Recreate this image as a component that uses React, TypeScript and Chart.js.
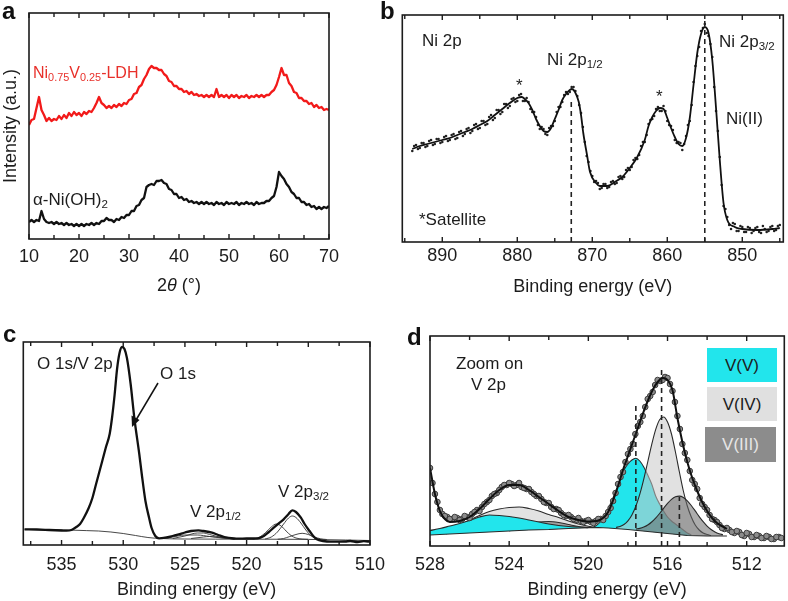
import React, { useEffect, useRef } from 'react';
import { Chart, registerables } from 'chart.js';

Chart.register(...registerables);

const FONT = '"Liberation Sans", Arial, Helvetica, sans-serif';
const INK = '#1c1c1c';

// ---------------- Panel a : XRD (2θ from 10 to 70, step 0.5) ----------------
const aTheta0 = 10;
const aThetaStep = 0.5;
const aLDH = [
  114, 119, 120, 131, 142, 129, 124, 118, 121, 118, 120, 119, 123, 120, 124, 121, 126, 123, 127, 124,
  126, 123, 127, 125, 128, 127, 131, 136, 142, 136, 134, 131, 133, 131, 134, 132, 135, 133, 136, 135,
  139, 140, 145, 146, 152, 154, 160, 164, 170, 173, 171, 171, 169, 169, 165, 163, 158, 157, 153, 153,
  150, 150, 147, 148, 145, 147, 144, 145, 143, 144, 142, 144, 142, 144, 142, 150, 142, 144, 142, 144,
  141, 144, 142, 144, 141, 143, 142, 144, 141, 143, 142, 144, 142, 144, 142, 144, 144, 147, 149, 154,
  162, 171, 164, 164, 156, 153, 147, 146, 141, 141, 138, 138, 135, 136, 132, 134, 131, 132, 129, 130,
  129,
];
const aNiOH = [
  17, 19, 17, 19, 18, 28, 20, 17, 16, 17, 15, 17, 15, 16, 14, 16, 14, 15, 13, 15,
  13, 15, 13, 15, 14, 16, 14, 16, 15, 18, 18, 21, 19, 19, 17, 20, 19, 22, 21, 24,
  24, 28, 28, 33, 34, 39, 41, 52, 54, 55, 54, 58, 58, 59, 56, 55, 50, 49, 45, 45,
  41, 42, 39, 40, 37, 38, 36, 37, 35, 37, 35, 37, 35, 36, 34, 37, 35, 36, 34, 37,
  35, 36, 35, 37, 34, 36, 35, 37, 35, 36, 34, 37, 35, 36, 36, 38, 38, 41, 43, 52,
  67, 63, 60, 55, 52, 47, 45, 41, 41, 37, 37, 34, 35, 32, 33, 30, 32, 30, 32, 31,
  33,
];

// ---------------- Panel b : Ni 2p XPS ----------------
const bFitE = [894, 893, 892, 891, 890, 889, 888, 887, 886, 885, 884, 883, 882, 881, 880, 879.4, 879, 878.5, 878, 877.5, 877, 876.5, 876, 875.5, 875, 874.5, 874, 873.5, 873, 872.7, 872.3, 871.8, 871.5, 871.2, 870.7, 870.3, 869.5, 869, 868, 867, 866, 865, 864, 863, 862.5, 862, 861.5, 861, 860.5, 860, 859.5, 859, 858.5, 858, 857.5, 857, 856.5, 856, 855.5, 855, 854.5, 854, 853.5, 853, 852.5, 852, 851, 850, 848, 846, 845];
const bFitI = [93, 96, 98, 100, 102, 104, 107, 110, 113, 117, 121, 127, 133, 139, 144, 145, 143, 139, 132, 123, 116, 111, 110, 114, 123, 132, 142, 148, 152, 153, 150, 140, 127, 109, 87, 70, 59, 56, 56, 60, 65, 74, 85, 102, 116, 125, 131, 134, 133, 124, 114, 105, 98, 96, 104, 124, 157, 189, 208, 215, 209, 182, 134, 82, 39, 22, 15, 13, 12, 13, 14];
// measured points, every 0.5 eV from 894 eV
const bDotE0 = 894;
const bDotStep = 0.5;
const bDotI = [
  91, 97, 94, 99, 96, 102, 98, 103, 100, 106, 102, 108, 104, 111, 108, 114, 111, 118, 114, 121,
  118, 127, 124, 132, 130, 138, 136, 144, 141, 148, 141, 140, 130, 125, 113, 113, 107, 116, 121, 135,
  140, 150, 150, 155, 146, 129, 100, 80, 66, 61, 53, 58, 54, 60, 58, 65, 63, 72, 72, 82,
  83, 96, 100, 118, 123, 133, 131, 136, 121, 116, 102, 100, 92, 106, 121, 160, 186, 211, 218, 206,
  185, 131, 85, 36, 25, 13, 18, 11, 15, 10, 14, 11, 15, 9, 13, 11, 16, 12, 17,
];
// measured points in between, every 0.5 eV from 893.75 eV
const bDot2E0 = 893.75;
const bDot2I = [
  96, 93, 99, 95, 101, 97, 103, 99, 105, 101, 107, 103, 110, 106, 113, 109, 117, 113, 121, 117,
  125, 122, 132, 128, 138, 134, 143, 140, 147, 141, 144, 133, 130, 117, 115, 108, 114, 116, 130, 135,
  147, 148, 155, 151, 137, 115, 86, 71, 60, 59, 54, 58, 55, 61, 59, 66, 65, 74, 75, 84,
  87, 100, 107, 122, 126, 135, 131, 131, 117, 112, 99, 99, 98, 117, 137, 176, 195, 214, 209, 198,
  155, 111, 57, 33, 17, 19, 11, 16, 10, 15, 9, 14, 10, 16, 10, 15, 11, 16,
];
const bDashE = [872.8, 855.0];
const bDashTop = [142, 222];

// ---------------- Panel c : O 1s / V 2p ----------------
const cMainE = [538, 537, 536, 535, 534.6, 534.2, 533.8, 533.5, 533.2, 532.8, 532.5, 532.2, 531.7, 531.4, 531.1, 530.9, 530.7, 530.5, 530.3, 530.1, 529.9, 529.7, 529.4, 529.1, 528.7, 528.5, 528.2, 527.9, 527.7, 527.4, 527.1, 526.6, 526, 525.5, 525, 524.5, 523.9, 523.5, 522.8, 522.3, 521.8, 521, 520.7, 520, 519.1, 518.6, 518.2, 517.8, 517.4, 517, 516.6, 516.3, 516, 515.6, 515.3, 514.9, 514.6, 514.3, 513.8, 513.2, 512, 511.6, 511, 510.5, 510];
const cMainI = [15.7, 15.5, 15, 14.5, 14.3, 15, 18, 21, 27, 37, 47, 61, 84, 98, 111, 128, 150, 176, 192, 198, 196, 187, 161, 127, 91, 71, 44, 27, 17, 9, 6.7, 7.3, 9, 10.7, 12.5, 14, 14.7, 14, 12.3, 10, 8, 6.5, 6.3, 6.5, 6.7, 9, 13, 17.3, 21.5, 25.7, 31, 34.7, 33, 27.3, 21, 14, 9, 5.7, 4, 3.3, 3.5, 4, 3, 3.8, 3.3];
const cBgE = [538, 536, 534, 533, 532, 531, 530, 529, 528, 527, 525, 520, 515, 512, 510];
const cBgI = [15.7, 15.3, 14.8, 14.4, 14, 13, 11.5, 9.5, 7.5, 6.5, 6, 5.8, 5.6, 5, 4.5];
const cP1E = [519.5, 519, 518.5, 518, 517.6, 517.2, 516.8, 516.4, 516, 515.5, 515];
const cP1I = [6, 7.5, 12, 18, 21, 19, 14, 9.5, 7, 6, 5.7];
const cP2E = [518.5, 518, 517.5, 517, 516.6, 516.3, 516, 515.6, 515.2, 514.8, 514.4, 514];
const cP2I = [6, 8, 13, 21, 27, 29, 27.5, 22, 15, 9.5, 6.5, 5.7];
const cP3E = [517.5, 517, 516.5, 516, 515.5, 515, 514.5, 514, 513.5];
const cP3I = [5.7, 6.5, 8.5, 10.5, 11.7, 10.5, 8, 6.2, 5.5];
const cP4E = [527, 526, 525, 524, 523, 522, 521];
const cP4I = [6.5, 8, 10, 10, 8.5, 7, 6.2];
const cP5E = [526, 525, 524, 523.5, 523, 522, 521];
const cP5I = [6.5, 9, 12, 12, 10.5, 7.5, 6];
const cP6E = [524.5, 523.5, 523, 522.5, 521.5, 521];
const cP6I = [6.5, 8, 8.5, 8, 6.5, 6];

// ---------------- Panel d : zoom on V 2p ----------------
const dBaseE = [528, 527, 526, 525, 524, 523, 522, 521, 520, 519.5, 519, 518.5, 518, 517.5, 517, 516.5, 516, 515.5, 515, 514.5, 514, 513];
const dBaseI = [11, 12, 13, 14, 15, 16, 16.5, 17.5, 18.3, 18.5, 18, 17.3, 16.5, 15.5, 14.5, 13.5, 12.5, 11.5, 10.5, 10.2, 10, 10];
const dV5aE = [528, 527.5, 527, 526.5, 526, 525.5, 525, 524.5, 524, 523.5, 523, 522.5, 522, 521.5, 521, 520.5, 520, 519.5];
const dV5aI = [15.5, 17.5, 20, 22.5, 25.5, 29, 31, 30.5, 29.5, 28, 26, 24, 22, 20.5, 19.5, 19, 18.6, 18.5];
const dV4aE = [527.2, 527, 526.8, 526.5, 526, 525.5, 525, 524.5, 524, 523.5, 523, 522.5, 522, 521.5, 521, 520.5, 520, 519.7];
const dV4aI = [12.2, 13.5, 17, 21, 26, 30.5, 34.5, 37, 38.5, 39, 37.5, 35, 31.5, 28.5, 25, 22, 19.8, 18.6];
const dV3aE = [524, 523.5, 523, 522.5, 522, 521.5, 521, 520.5, 520];
const dV3aI = [15, 18, 21.5, 24, 24.5, 23.5, 21.5, 19.5, 18.3];
const dV5bE = [519.8, 519.6, 519.4, 519.2, 519, 518.8, 518.6, 518.4, 518.2, 518, 517.8, 517.6, 517.4, 517.2, 517, 516.8, 516.6, 516.4, 516.2, 516, 515.8, 515.6, 515.4, 515.2, 515, 514.8];
const dV5bI = [18.4, 20.5, 24, 30, 37, 46, 55, 66, 76, 82, 86, 87.7, 85, 79, 71, 62, 50, 42, 35, 29, 25, 22, 19, 16, 13, 11];
const dV4bE = [518.6, 518.4, 518.2, 518, 517.8, 517.6, 517.4, 517.2, 517, 516.8, 516.6, 516.4, 516.2, 516, 515.8, 515.6, 515.4, 515.2, 515, 514.8, 514.6, 514.4, 514.2, 514, 513.8];
const dV4bI = [18.6, 19.5, 21.5, 25.2, 31.1, 39.7, 51.8, 66.9, 84, 101.3, 116.3, 126.2, 129, 124, 112, 94, 74, 55, 40, 29, 21, 16, 13, 11.5, 10.5];
const dV3bE = [517.6, 517.4, 517.2, 517, 516.8, 516.6, 516.4, 516.2, 516, 515.8, 515.6, 515.4, 515.2, 515, 514.8, 514.6, 514.4, 514.2, 514, 513.8, 513.6, 513.4, 513.2];
const dV3bI = [17, 17.6, 18.9, 21, 24, 27.9, 32.5, 37.7, 42.6, 46.7, 49.3, 49.9, 48.5, 45.1, 40.5, 35.1, 29.4, 24.3, 19.9, 16.5, 14, 12.3, 11.3];
const dFitE = [528, 527.75, 527.5, 527.25, 527, 526.5, 526, 525.5, 525, 524.5, 524, 523.5, 523, 522.5, 522, 521.5, 521, 520.5, 520, 519.5, 519, 518.5, 518.25, 518, 517.75, 517.5, 517.25, 517, 516.75, 516.5, 516.25, 516, 515.75, 515.5, 515.25, 515, 514.75, 514.5, 514.25, 514, 513.75, 513.5, 513];
const dFitI = [78, 52, 35, 27, 24, 25, 29, 37, 47, 56, 61, 61, 56, 49, 42, 35, 29, 26, 24.5, 25.5, 34, 60, 76, 90, 104, 118, 132, 145, 156, 164, 168, 166, 156, 128, 104, 84, 68, 55, 44, 35, 28, 23, 17];
// measured points, every 0.25 eV from 528 eV
const dDotE0 = 528;
const dDotStep = 0.25;
const dDotI = [
  78, 52, 36, 30, 27, 29, 26, 30, 28, 34, 35, 42, 46, 52, 56, 61, 63, 60, 63, 58,
  57, 52, 50, 44, 43, 37, 36, 31, 31, 27, 28, 24, 26, 23, 27, 26, 34, 45, 62, 74,
  92, 102, 120, 130, 147, 154, 166, 166, 168, 155, 130, 102, 86, 66, 57, 42, 36, 27, 24, 18,
  18, 14, 15, 11, 13, 9, 11, 8, 10, 7, 9, 8,
];
// measured points in between, every 0.25 eV from 527.875 eV
const dDot2E0 = 527.875;
const dDot2I = [
  63, 44, 32, 29, 27, 28, 27, 29, 32, 36, 39, 44, 50, 53, 59, 61, 62, 61, 59, 57,
  54, 50, 47, 43, 39, 37, 33, 30, 29, 26, 25, 25, 24, 25, 27, 30, 38, 53, 69, 84,
  97, 112, 124, 139, 150, 161, 165, 169, 162, 144, 117, 93, 75, 62, 48, 39, 31, 26, 21, 17,
  16, 13, 14, 10, 12, 9, 10, 8, 9, 7, 9,
];
const dDashE = [517.6, 516.3, 515.4];
const dDashTop = [143, 178, 49];

// ---------------- helpers ----------------
const pts = (xs: number[], ys: number[]) => xs.map((x, i) => ({ x, y: ys[i] }));
const grid = (x0: number, step: number, ys: number[]) => ys.map((y, i) => ({ x: x0 + i * step, y }));
const isMajor = (v: number, major: number) => Math.abs(v / major - Math.round(v / major)) < 1e-6;

const frameTicks = {
  id: 'frameTicks',
  afterDraw(chart: any, _args: any, opts: any) {
    const { ctx, chartArea } = chart;
    const { left, right, top, bottom } = chartArea;
    const xs = chart.scales.x;
    ctx.save();
    ctx.strokeStyle = INK;
    ctx.lineWidth = 1.4;
    ctx.beginPath();
    for (const t of xs.ticks) {
      const px = xs.getPixelForValue(t.value);
      const len = isMajor(t.value, opts.major) ? 5 : 4;
      ctx.moveTo(px, bottom);
      ctx.lineTo(px, bottom - len);
      ctx.moveTo(px, top);
      ctx.lineTo(px, top + len);
    }
    ctx.stroke();
    ctx.lineWidth = 1.6;
    ctx.strokeRect(left, top, right - left, bottom - top);
    ctx.restore();
  },
};

type P = {
  xmin: number; xmax: number; ymax: number; reverse: boolean; step: number; major: number;
  padL: number; padR: number; padT: number; xH: number; tickPad: number; titlePadB: number;
  title: string; showTitle?: boolean; yTitle?: string; yW?: number;
};

function build(canvas: HTMLCanvasElement, datasets: any[], p: P) {
  return new Chart(canvas, {
    type: 'line',
    data: { datasets },
    options: {
      animation: false,
      responsive: false,
      maintainAspectRatio: false,
      events: [],
      layout: { autoPadding: false, padding: { left: p.padL, right: p.padR, top: p.padT, bottom: 0 } },
      elements: { point: { radius: 0 }, line: { borderJoinStyle: 'round' } },
      plugins: { legend: { display: false }, tooltip: { enabled: false }, frameTicks: { major: p.major } } as any,
      scales: {
        x: {
          type: 'linear',
          reverse: p.reverse,
          min: p.xmin,
          max: p.xmax,
          afterFit: (s: any) => { s.height = p.xH; },
          grid: { display: false, drawTicks: false },
          border: { display: false },
          ticks: {
            stepSize: p.step,
            autoSkip: false,
            includeBounds: false,
            maxRotation: 0,
            padding: p.tickPad,
            color: INK,
            font: { family: FONT, size: 18 },
            callback: (v: any) => (isMajor(Number(v), p.major) ? String(Math.round(Number(v))) : ''),
          },
          title: { display: p.showTitle !== false, text: p.title, color: INK, font: { family: FONT, size: 18 }, padding: { top: 0, bottom: p.titlePadB } },
        },
        y: p.yTitle
          ? {
              min: 0, max: p.ymax,
              afterFit: (s: any) => { s.width = p.yW; },
              grid: { display: false, drawTicks: false },
              border: { display: false },
              ticks: { display: false },
              title: { display: true, text: p.yTitle, color: INK, font: { family: FONT, size: 18 }, padding: { top: 0, bottom: 0 } },
            }
          : { display: false, min: 0, max: p.ymax },
      },
    } as any,
    plugins: [frameTicks as any],
  });
}

const line = (data: any[], color: string, width: number, extra: any = {}) => ({
  data, borderColor: color, borderWidth: width, pointRadius: 0, fill: false, ...extra,
});

export default function App() {
  const ra = useRef<HTMLCanvasElement>(null);
  const rb = useRef<HTMLCanvasElement>(null);
  const rc = useRef<HTMLCanvasElement>(null);
  const rd = useRef<HTMLCanvasElement>(null);

  useEffect(() => {
    const charts: Chart[] = [];
    // a
    charts.push(build(ra.current!, [
      line(grid(aTheta0, aThetaStep, aLDH), '#f21a1a', 2.3),
      line(grid(aTheta0, aThetaStep, aNiOH), '#111', 2.3),
    ], { xmin: 10, xmax: 70, ymax: 226, reverse: false, step: 5, major: 10, padL: 0, padR: 65, padT: 13, xH: 61, tickPad: 7, titlePadB: 4, title: '2θ (°)', showTitle: false, yTitle: 'Intensity (a.u.)', yW: 29 }));
    // b
    const bDash = bDashE.map((e, i) => line([{ x: e, y: 0 }, { x: e, y: bDashTop[i] }], '#222', 1.6, { borderDash: [5, 4], order: 1 }));
    const dotB = (data: any[]) => ({ data, showLine: false, pointRadius: 1.3, pointBackgroundColor: '#222', pointBorderWidth: 0, order: 3 });
    charts.push(build(rb.current!, [
      ...bDash,
      dotB(grid(bDotE0, -bDotStep, bDotI)),
      dotB(grid(bDot2E0, -bDotStep, bDot2I)),
      line(pts(bFitE, bFitI), '#111', 1.8, { cubicInterpolationMode: 'monotone', order: 2 }),
    ], { xmin: 844.53, xmax: 895.33, ymax: 227, reverse: true, step: 5, major: 10, padL: 8.3, padR: 4.7, padT: 15, xH: 58, tickPad: 3, titlePadB: 2.5, title: 'Binding energy (eV)' }));
    // c
    const thin = (xs: number[], ys: number[]) => line(pts(xs, ys), '#333', 0.9, { cubicInterpolationMode: 'monotone', order: 3 });
    charts.push(build(rc.current!, [
      line(pts(cMainE, cMainI), '#111', 2.3, { cubicInterpolationMode: 'monotone', order: 1 }),
      thin(cBgE, cBgI), thin(cP1E, cP1I), thin(cP2E, cP2I), thin(cP3E, cP3I), thin(cP4E, cP4I), thin(cP5E, cP5I), thin(cP6E, cP6I),
    ], { xmin: 510, xmax: 538.1, ymax: 203, reverse: true, step: 2.5, major: 5, padL: 23.3, padR: 20.7, padT: 42, xH: 56, tickPad: 9, titlePadB: 0, title: 'Binding energy (eV)' }));
    // d
    const CYAN = 'rgb(34,229,236)';
    const LG = 'rgba(200,200,200,0.55)';
    const LG1 = 'rgb(226,226,226)';
    const DG = 'rgba(105,105,105,0.55)';
    const comp = (xs: number[], ys: number[], color: string, order: number) =>
      line(pts(xs, ys), '#2a2a2a', 1.1, { cubicInterpolationMode: 'monotone', fill: { target: 0, above: color, below: color }, backgroundColor: color, order });
    const dDash = dDashE.map((e, i) => line([{ x: e, y: 0 }, { x: e, y: dDashTop[i] }], '#222', 1.6, { borderDash: [5, 4], order: 0 }));
    const dotD = (data: any[]) => ({ data, showLine: false, pointRadius: 2.8, pointBackgroundColor: 'rgb(140,140,140)', pointBorderColor: '#3c3c3c', pointBorderWidth: 1, order: 8 });
    charts.push(build(rd.current!, [
      line(pts(dBaseE, dBaseI), '#2a2a2a', 1.1, { order: 10 }),
      comp(dV4aE, dV4aI, LG1, 70), comp(dV3aE, dV3aI, DG, 68), comp(dV5aE, dV5aI, CYAN, 65),
      comp(dV5bE, dV5bI, CYAN, 60), comp(dV4bE, dV4bI, LG, 50), comp(dV3bE, dV3bI, DG, 40),
      dotD(grid(dDotE0, -dDotStep, dDotI)),
      dotD(grid(dDot2E0, -dDotStep, dDot2I)),
      line(pts(dFitE, dFitI), '#111', 2, { cubicInterpolationMode: 'monotone', order: 5 }),
      ...dDash,
    ], { xmin: 510.1, xmax: 528, ymax: 210, reverse: true, step: 2, major: 4, padL: 36, padR: 3.7, padT: 36, xH: 55, tickPad: 8, titlePadB: 0, title: 'Binding energy (eV)' }));

    return () => charts.forEach((c) => c.destroy());
  }, []);

  const txt = (left: number, top: number, size = 17, extra: React.CSSProperties = {}): React.CSSProperties => ({
    position: 'absolute', left, top, fontSize: size, lineHeight: 1, whiteSpace: 'nowrap', color: INK, ...extra,
  });
  const sub: React.CSSProperties = { fontSize: '0.68em', verticalAlign: '-0.28em', lineHeight: 0 };
  const letter = (left: number, top: number): React.CSSProperties => txt(left, top, 24, { fontWeight: 'bold', color: '#111' });
  const cv = (left: number, top: number, w: number, h: number): React.CSSProperties => ({ position: 'absolute', left, top, width: w, height: h });
  const box = (left: number, top: number, w: number, h: number, bg: string, fg: string): React.CSSProperties => ({
    position: 'absolute', left, top, width: w, height: h, background: bg, color: fg, fontSize: 17, display: 'flex', alignItems: 'center', justifyContent: 'center', lineHeight: 1,
  });

  return (
    <div style={{ position: 'absolute', left: 0, top: 0, width: 788, height: 601, background: '#fff', fontFamily: FONT, overflow: 'hidden' }}>
      <canvas ref={ra} width={394} height={300} style={cv(0, 0, 394, 300)} />
      <canvas ref={rb} width={394} height={300} style={cv(394, 0, 394, 300)} />
      <canvas ref={rc} width={394} height={301} style={cv(0, 300, 394, 301)} />
      <canvas ref={rd} width={394} height={301} style={cv(394, 300, 394, 301)} />

      {/* panel letters */}
      <span style={letter(2, -1)}>a</span>
      <span style={letter(380, -1)}>b</span>
      <span style={letter(3, 322)}>c</span>
      <span style={letter(407, 325)}>d</span>

      {/* panel a labels */}
      <span style={txt(157, 276, 18)}>2<i>θ</i> (°)</span>
      <span style={txt(33, 65, 16, { color: '#e8302a' })}>Ni<span style={sub}>0.75</span>V<span style={sub}>0.25</span>-LDH</span>
      <span style={txt(33, 191, 17)}>α-Ni(OH)<span style={sub}>2</span></span>

      {/* panel b labels */}
      <span style={txt(422, 32)}>Ni 2p</span>
      <span style={txt(547, 51)}>Ni 2p<span style={sub}>1/2</span></span>
      <span style={txt(516, 77)}>*</span>
      <span style={txt(656, 88)}>*</span>
      <span style={txt(719, 33)}>Ni 2p<span style={sub}>3/2</span></span>
      <span style={txt(726, 110)}>Ni(II)</span>
      <span style={txt(419, 211)}>*Satellite</span>

      {/* panel c labels */}
      <span style={txt(37, 355)}>O 1s/V 2p</span>
      <span style={txt(160, 365)}>O 1s</span>
      <span style={txt(190, 503)}>V 2p<span style={sub}>1/2</span></span>
      <span style={txt(278, 483)}>V 2p<span style={sub}>3/2</span></span>
      <svg width={788} height={601} style={{ position: 'absolute', left: 0, top: 0, pointerEvents: 'none' }}>
        <line x1={158} y1={383} x2={136} y2={420} stroke="#111" strokeWidth={1.5} />
        <polygon points="132,427 131.5,415.5 139.5,420" fill="#111" />
      </svg>

      {/* panel d labels */}
      <span style={txt(456, 355)}>Zoom on</span>
      <span style={txt(471, 376)}>V 2p</span>
      <div style={box(707, 348, 70, 34, 'rgb(34,229,236)', INK)}>V(V)</div>
      <div style={box(707, 387, 70, 34, 'rgb(224,224,224)', INK)}>V(IV)</div>
      <div style={box(705, 427, 71, 35, 'rgb(140,140,140)', '#e6e6e6')}>V(III)</div>
    </div>
  );
}
